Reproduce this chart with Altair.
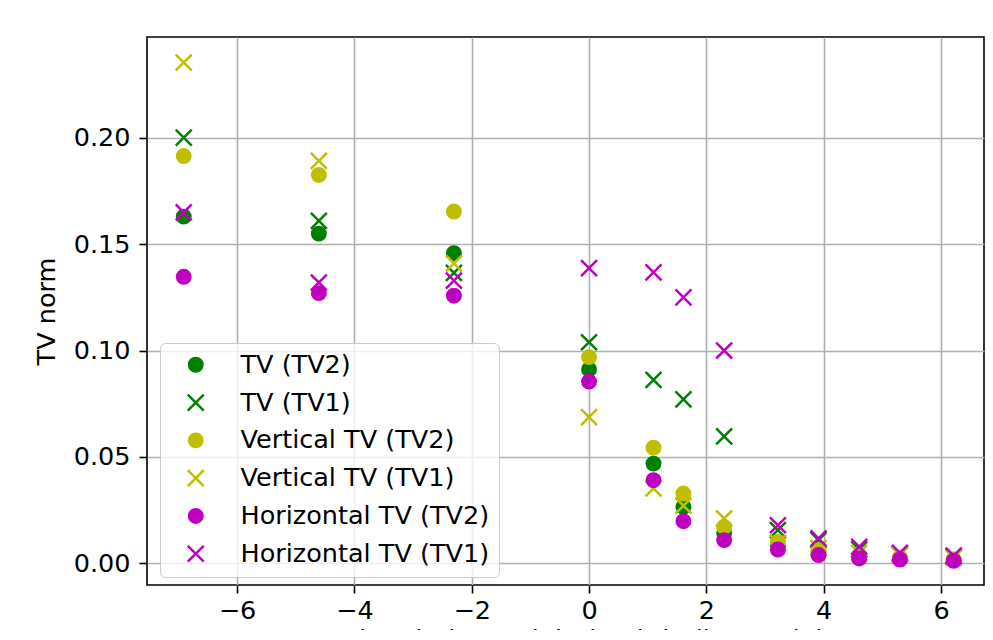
import altair as alt
import pandas as pd

# log of total variation weight (x positions)
x_vals = [-6.908, -4.605, -2.303, 0.0, 1.099, 1.609, 2.303, 3.219, 3.912, 4.605, 5.298, 6.215]

series_names = ["TV (TV2)", "TV (TV1)", "Vertical TV (TV2)", "Vertical TV (TV1)",
                "Horizontal TV (TV2)", "Horizontal TV (TV1)"]

tv_tv2 = [0.1630, 0.1550, 0.1458, 0.0911, 0.0468, 0.0264, 0.0140, 0.0080, 0.0048, 0.0029, 0.0022, 0.0015]
tv_tv1 = [0.2002, 0.1610, 0.1365, 0.1039, 0.0862, 0.0770, 0.0596, 0.0155, 0.0108, 0.0065, 0.0042, 0.0030]
vert_tv2 = [0.1915, 0.1826, 0.1654, 0.0969, 0.0543, 0.0327, 0.0170, 0.0100, 0.0061, 0.0038, 0.0027, 0.0018]
vert_tv1 = [0.2355, 0.1892, 0.1410, 0.0687, 0.0351, 0.0270, 0.0210, 0.0095, 0.0070, 0.0048, 0.0038, 0.0025]
horiz_tv2 = [0.1347, 0.1270, 0.1258, 0.0854, 0.0390, 0.0197, 0.0108, 0.0064, 0.0038, 0.0022, 0.0017, 0.0011]
horiz_tv1 = [0.1650, 0.1320, 0.1329, 0.1388, 0.1368, 0.1250, 0.1000, 0.0178, 0.0116, 0.0077, 0.0048, 0.0035]

x_ticks = [-6, -4, -2, 0, 2, 4, 6]
y_ticks = [0.0, 0.05, 0.10, 0.15, 0.20]

GREEN, YELLOW, MAGENTA = "#008000", "#bfbf00", "#bf00bf"
X_PATH = "M-1,-1L1,1M-1,1L1,-1"
shapes = ["circle", X_PATH, "circle", X_PATH, "circle", X_PATH]
fills = [GREEN, "transparent", YELLOW, "transparent", MAGENTA, "transparent"]
strokes = ["transparent", GREEN, "transparent", YELLOW, "transparent", MAGENTA]

rows = []
for i, (name, vals) in enumerate(zip(series_names,
                                     [tv_tv2, tv_tv1, vert_tv2, vert_tv1, horiz_tv2, horiz_tv1])):
    for xv, yv in zip(x_vals, vals):
        rows.append({"lam": xv, "norm": yv, "series": name, "k": i})
df = pd.DataFrame(rows)

FONT = "DejaVu Sans"
FS = 25.5

legend = alt.Legend(
    title=None, orient="none", legendX=13, legendY=306,
    fillColor="rgba(255,255,255,0.8)", strokeColor="#cccccc", cornerRadius=5,
    padding=9, labelFontSize=FS, labelFont=FONT, labelColor="black", labelLimit=0,
    symbolSize=254, symbolStrokeWidth=2.5, symbolOffset=14, labelOffset=32,
    rowPadding=9.8,
)

chart = alt.Chart(df).mark_point(size=254, strokeWidth=2.5, opacity=1).encode(
    x=alt.X("lam:Q",
            scale=alt.Scale(domain=[-7.534, 6.732], nice=False, zero=False),
            axis=alt.Axis(values=x_ticks, format="d",
                          title="Total variation weight lambda (log scale)",
                          labelPadding=5, titlePadding=4)),
    y=alt.Y("norm:Q",
            scale=alt.Scale(domain=[-0.0103, 0.2475], nice=False, zero=False),
            axis=alt.Axis(values=y_ticks, format=".2f", title="TV norm",
                          labelPadding=9, titlePadding=14)),
    shape=alt.Shape("series:N", scale=alt.Scale(domain=series_names, range=shapes), legend=legend),
    fill=alt.Fill("series:N", scale=alt.Scale(domain=series_names, range=fills), legend=legend),
    stroke=alt.Stroke("series:N", scale=alt.Scale(domain=series_names, range=strokes), legend=legend),
    order=alt.Order("k:Q"),
).properties(
    width=837, height=548,
    autosize=alt.AutoSizeParams(type="none"),
    padding={"left": 139, "top": 29, "right": 1, "bottom": 45},
).configure_view(
    stroke="black", strokeWidth=1.6
).configure_axis(
    labelFont=FONT, titleFont=FONT, labelFontSize=FS, titleFontSize=FS,
    labelColor="black", titleColor="black", titleFontWeight="normal",
    grid=True, gridColor="#b0b0b0", gridWidth=1.6, gridOpacity=1,
    domain=False, tickColor="black", tickWidth=1.6, tickSize=8,
)

chart.save("out.html", embed_options={"renderer": "svg", "actions": False})
